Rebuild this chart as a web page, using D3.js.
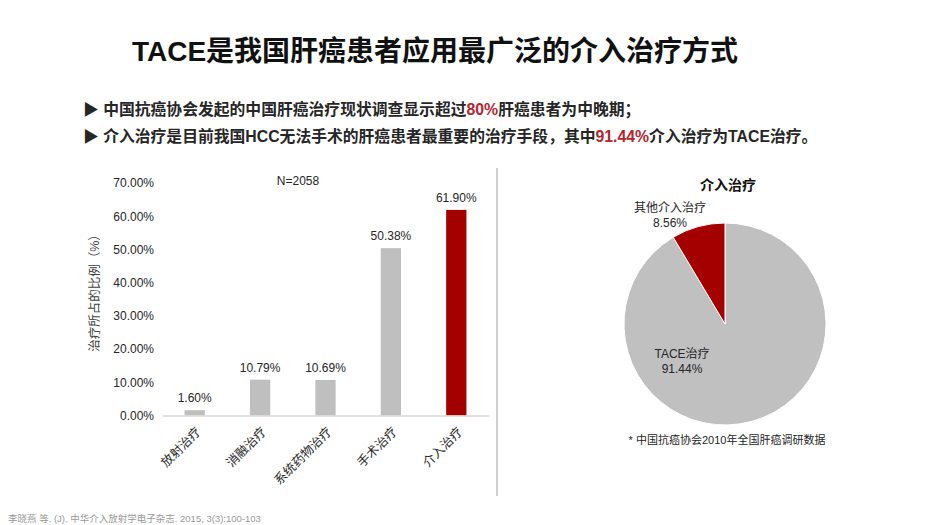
<!DOCTYPE html>
<html><head><meta charset="utf-8">
<script src="https://cdn.jsdelivr.net/npm/d3@7"></script>
<style>
body{margin:0;background:#fff;}
svg{display:block;}
text{font-family:"Liberation Sans","Noto Sans CJK SC",Arial,sans-serif;}
.cjk{font-family:"Liberation Sans","Noto Sans CJK SC",sans-serif;}
</style></head>
<body>
<svg id="c" width="950" height="525"></svg>
<script>
const titleText = "TACE是我国肝癌患者应用最广泛的介入治疗方式";
const barCategories = ["放射治疗","消融治疗","系统药物治疗","手术治疗","介入治疗"];
const barValues = [1.60, 10.79, 10.69, 50.38, 61.90];
const yTickValues = [0,10,20,30,40,50,60,70];
const pieLabels = ["TACE治疗","其他介入治疗"];
const pieValues = [91.44, 8.56];

const svg = d3.select("#c");
const red = "#a50000", grey = "#bfbfbf", dark = "#262626";

// Title
svg.append("text").attr("x",435).attr("y",61).attr("text-anchor","middle")
  .attr("class","cjk").style("font-size","28px").style("font-weight","bold").attr("fill","#111")
  .text(titleText);

// Bullets
const b1 = svg.append("text").attr("x",83).attr("y",115).attr("class","cjk")
  .style("font-size","15.8px").style("font-weight","bold").attr("fill",dark);
b1.append("tspan").text("▶ 中国抗癌协会发起的中国肝癌治疗现状调查显示超过");
b1.append("tspan").attr("fill","#b3262e").text("80%");
b1.append("tspan").text("肝癌患者为中晚期；");
const b2 = svg.append("text").attr("x",83).attr("y",142).attr("class","cjk")
  .style("font-size","15.8px").style("font-weight","bold").attr("fill",dark);
b2.append("tspan").text("▶ 介入治疗是目前我国HCC无法手术的肝癌患者最重要的治疗手段，其中");
b2.append("tspan").attr("fill","#b3262e").text("91.44%");
b2.append("tspan").text("介入治疗为TACE治疗。");

// Bar chart
const x = d3.scaleBand().domain(barCategories).range([162,489]).paddingInner(0.69).paddingOuter(0.345);
const y = d3.scaleLinear().domain([0,70]).range([415.5,183]);

const yAxis = d3.axisLeft(y).tickValues(yTickValues).tickSize(0).tickPadding(8)
  .tickFormat(d => d.toFixed(2)+"%");
const ya = svg.append("g").attr("transform","translate(162,0)").call(yAxis);
ya.select(".domain").remove();
ya.selectAll("text").style("font-size","12px").attr("fill",dark)
  .attr("font-family","Liberation Sans, Arial, sans-serif");

svg.append("g").selectAll("rect").data(barValues).join("rect")
  .attr("x",(d,i)=>x(barCategories[i])).attr("width",x.bandwidth())
  .attr("y",d=>y(d)).attr("height",d=>y(0)-y(d))
  .attr("fill",(d,i)=> i===barValues.length-1 ? red : grey);

const xAxis = d3.axisBottom(x).tickSize(0).tickPadding(0);
const xa = svg.append("g").attr("transform",`translate(0,${y(0)})`).call(xAxis);
xa.select(".domain").attr("stroke","#d9d9d9").attr("stroke-width",1.5);
xa.selectAll("text").attr("class","cjk").style("font-size","12.5px").attr("fill",dark)
  .attr("text-anchor","end").attr("dy","0").attr("y",0)
  .attr("transform","translate(7,17) rotate(-45)");

svg.append("g").selectAll("text").data(barValues).join("text")
  .attr("x",(d,i)=>x(barCategories[i])+x.bandwidth()/2).attr("y",d=>y(d)-8)
  .attr("text-anchor","middle").style("font-size","12px").attr("fill",dark)
  .text(d=>d.toFixed(2)+"%");

svg.append("text").attr("x",298).attr("y",185).attr("text-anchor","middle")
  .style("font-size","12px").attr("fill",dark).text("N=2058");

svg.append("text").attr("class","cjk").attr("transform","translate(99,290) rotate(-90)")
  .attr("text-anchor","middle").style("font-size","12.5px").attr("fill","#404040")
  .text("治疗所占的比例（%）");

// separator
svg.append("line").attr("x1",497).attr("x2",497).attr("y1",168).attr("y2",496)
  .attr("stroke","#bfbfbf").attr("stroke-width",1.5);

// Pie
const cx = 725, cy = 324, r = 101;
const pie = d3.pie().sort(null).value(d=>d);
const arc = d3.arc().innerRadius(0).outerRadius(r);
const pg = svg.append("g").attr("transform",`translate(${cx},${cy})`);
pg.selectAll("path").data(pie(pieValues)).join("path")
  .attr("d",arc).attr("fill",(d,i)=> i===0 ? "#c0c0c0" : red)
  .attr("stroke","#fff").attr("stroke-width",1);

svg.append("text").attr("class","cjk").attr("x",728).attr("y",190).attr("text-anchor","middle")
  .style("font-size","14px").style("font-weight","bold").attr("fill","#111").text("介入治疗");

const pieLabelPos = [[682,358],[670,212]];
pieLabels.forEach((l,i)=>{
  const t = svg.append("text").attr("class","cjk").attr("text-anchor","middle")
    .style("font-size","12px").attr("fill",dark);
  t.append("tspan").attr("x",pieLabelPos[i][0]).attr("y",pieLabelPos[i][1]).text(l);
  t.append("tspan").attr("x",pieLabelPos[i][0]).attr("y",pieLabelPos[i][1]+15).text(pieValues[i].toFixed(2)+"%");
});

svg.append("text").attr("class","cjk").attr("x",727).attr("y",444).attr("text-anchor","middle")
  .style("font-size","11px").attr("fill",dark).text("* 中国抗癌协会2010年全国肝癌调研数据");

svg.append("text").attr("class","cjk").attr("x",8).attr("y",522)
  .style("font-size","9.5px").attr("fill","#999")
  .text("李晓燕 等. (J). 中华介入放射学电子杂志. 2015, 3(3):100-103");
</script>
</body></html>
